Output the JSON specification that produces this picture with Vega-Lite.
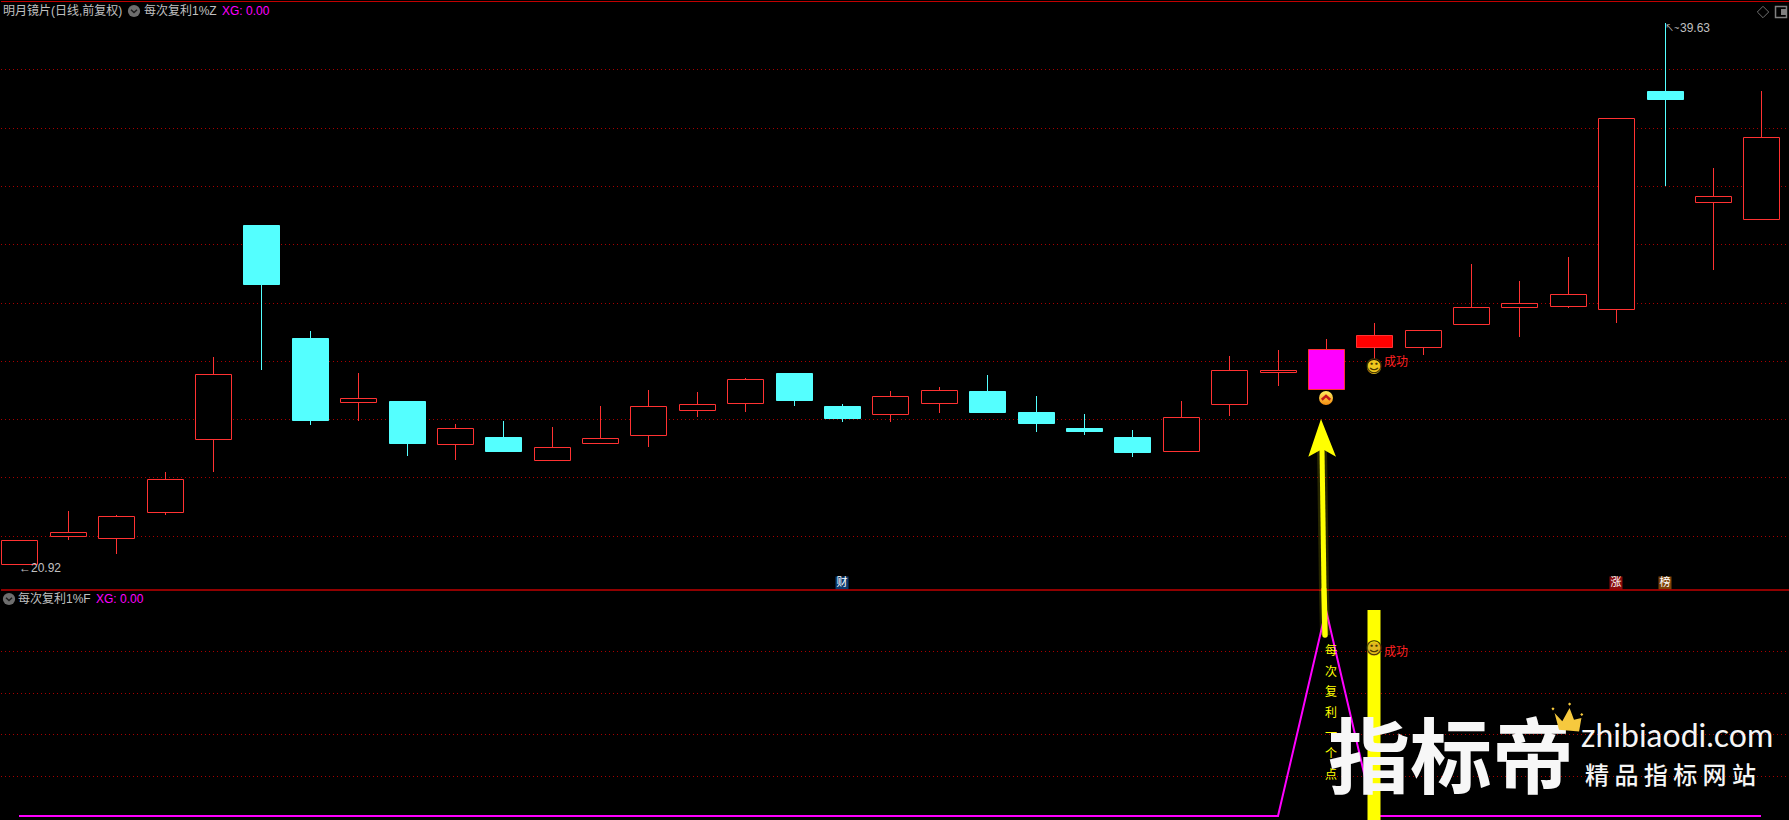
{
"$schema":"https://vega.github.io/schema/vega-lite/v6.json",
"background":"#000000","padding":0,"spacing":0,"bounds":"flush","autosize":{"type":"pad"},
"config":{"view":{"stroke":null},"text":{"font":"Liberation Sans, Noto Sans CJK SC","fontSize":12,"align":"left","baseline":"middle"}},
"datasets":{
"candles":[
{"i":0,"kind":"up","high":21.75,"low":20.92,"open":20.92,"close":21.75},
{"i":1,"kind":"up","high":22.76,"low":21.77,"open":21.89,"close":22.03},
{"i":2,"kind":"up","high":22.62,"low":21.29,"open":21.84,"close":22.58},
{"i":3,"kind":"up","high":24.11,"low":22.64,"open":22.74,"close":23.86},
{"i":4,"kind":"up","high":28.09,"low":24.12,"open":25.26,"close":27.49},
{"i":5,"kind":"down","high":32.65,"low":27.64,"open":32.65,"close":30.61},
{"i":6,"kind":"down","high":28.99,"low":25.74,"open":28.75,"close":25.91},
{"i":7,"kind":"up","high":27.54,"low":25.88,"open":26.54,"close":26.66},
{"i":8,"kind":"down","high":26.57,"low":24.67,"open":26.57,"close":25.11},
{"i":9,"kind":"up","high":25.77,"low":24.54,"open":25.09,"close":25.62},
{"i":10,"kind":"down","high":25.88,"low":24.8,"open":25.32,"close":24.84},
{"i":11,"kind":"up","high":25.67,"low":24.54,"open":24.54,"close":24.97},
{"i":12,"kind":"up","high":26.39,"low":25.13,"open":25.13,"close":25.28},
{"i":13,"kind":"up","high":26.95,"low":24.98,"open":25.4,"close":26.38},
{"i":14,"kind":"up","high":26.88,"low":26.01,"open":26.27,"close":26.45},
{"i":15,"kind":"up","high":27.36,"low":26.19,"open":26.51,"close":27.32},
{"i":16,"kind":"down","high":27.54,"low":26.39,"open":27.54,"close":26.6},
{"i":17,"kind":"down","high":26.46,"low":25.84,"open":26.39,"close":25.98},
{"i":18,"kind":"up","high":26.91,"low":25.84,"open":26.13,"close":26.73},
{"i":19,"kind":"up","high":27.05,"low":26.15,"open":26.51,"close":26.94},
{"i":20,"kind":"down","high":27.47,"low":26.19,"open":26.91,"close":26.19},
{"i":21,"kind":"down","high":26.74,"low":25.5,"open":26.19,"close":25.81},
{"i":22,"kind":"down","high":26.12,"low":25.39,"open":25.63,"close":25.53},
{"i":23,"kind":"down","high":25.56,"low":24.63,"open":25.32,"close":24.8},
{"i":24,"kind":"up","high":26.57,"low":24.8,"open":24.85,"close":26},
{"i":25,"kind":"up","high":28.12,"low":26.05,"open":26.47,"close":27.63},
{"i":26,"kind":"up","high":28.33,"low":27.09,"open":27.58,"close":27.63},
{"i":27,"kind":"signal","high":28.71,"low":26.95,"open":26.98,"close":28.37},
{"i":28,"kind":"success","high":29.26,"low":28.01,"open":28.43,"close":28.85},
{"i":29,"kind":"up","high":29.01,"low":28.16,"open":28.45,"close":29.01},
{"i":30,"kind":"up","high":31.3,"low":29.24,"open":29.24,"close":29.81},
{"i":31,"kind":"up","high":30.72,"low":28.78,"open":29.83,"close":29.95},
{"i":32,"kind":"up","high":31.55,"low":29.78,"open":29.86,"close":30.26},
{"i":33,"kind":"up","high":36.34,"low":29.26,"open":29.76,"close":36.34},
{"i":34,"kind":"down","high":39.63,"low":34,"open":37.29,"close":37.01},
{"i":35,"kind":"up","high":34.62,"low":31.1,"open":33.46,"close":33.65},
{"i":36,"kind":"up","high":37.29,"low":32.87,"open":32.87,"close":35.69}
],
"upperText":[
{"i":-0.329,"p":40.05,"label":"明月镜片(日线,前复权)","tone":"gray"},
{"i":2.585,"p":40.05,"label":"每次复利1%Z","tone":"gray"},
{"i":4.197,"p":40.05,"label":"XG: 0.00","tone":"magenta"},
{"i":0,"p":20.79,"label":"←20.92","tone":"gray"},
{"i":34.31,"p":39.47,"label":"39.63","tone":"gray"},
{"i":28.19,"p":27.93,"label":"成功","tone":"red"}
],
"lowerText":[
{"i":-0.019,"p":1.055,"label":"每次复利1%F","tone":"gray"},
{"i":1.593,"p":1.055,"label":"XG: 0.00","tone":"magenta"},
{"i":28.2,"p":0.798,"label":"成功","tone":"red"}
],
"badges":[
{"i":17,"p":20.29,"label":"财","kind":"finance"},
{"i":33,"p":20.29,"label":"涨","kind":"limit"},
{"i":34,"p":20.29,"label":"榜","kind":"rank"}
],
"osc":[{"i":0,"p":0},{"i":26,"p":0},{"i":27,"p":1},{"i":28,"p":0},{"i":36,"p":0}],
"vertical":[
{"i":27.1,"p":0.8,"label":"每"},{"i":27.1,"p":0.7,"label":"次"},{"i":27.1,"p":0.6,"label":"复"},
{"i":27.1,"p":0.5,"label":"利"},{"i":27.1,"p":0.4,"label":"一"},{"i":27.1,"p":0.3,"label":"个"},{"i":27.1,"p":0.2,"label":"点"}
]
},
"vconcat":[
{
"width":1789,"height":590,
"encoding":{
"x":{"field":"i","type":"quantitative","scale":{"domain":[-0.3802,36.59],"nice":false,"zero":false,"round":true,"padding":0},"axis":null},
"y":{"field":"p","type":"quantitative","scale":{"domain":[20.031,40.434],"nice":false,"zero":false,"round":true},"axis":null}
},
"layer":[
{"data":{"values":[{"p":38.0307},{"p":35.9906},{"p":33.9849},{"p":31.9793},{"p":29.939},{"p":27.9334},{"p":25.9278},{"p":23.9222},{"p":21.882}]},
"mark":{"type":"rule","stroke":"#A80000","strokeWidth":1,"strokeDash":[1,3],"yOffset":0.5},"encoding":{"x":{"value":0},"x2":{"value":1789}}},
{"data":{"name":"candles"},"mark":{"type":"rule","strokeWidth":1,"xOffset":0.5},
"encoding":{
"y":{"field":"low","type":"quantitative","scale":{"domain":[20.031,40.434],"nice":false,"zero":false,"round":true},"axis":null},
"y2":{"field":"high"},
"stroke":{"field":"kind","type":"nominal","scale":{"domain":["up","down","signal","success"],"range":["#FF3232","#54FFFF","#FF3232","#FF3232"]},"legend":null}}},
{"data":{"name":"candles"},"mark":{"type":"bar","size":36,"strokeWidth":1,"orient":"vertical","xOffset":0.5,"yOffset":0.5,"y2Offset":0.5},
"encoding":{
"y":{"field":"open","type":"quantitative","scale":{"domain":[20.031,40.434],"nice":false,"zero":false,"round":true},"axis":null},
"y2":{"field":"close"},
"fill":{"field":"kind","type":"nominal","scale":{"domain":["up","down","signal","success","finance","limit","rank"],"range":["#000000","#54FFFF","#FF00FF","#FF0000","#0B3A6E","#8A0A0A","#7C4208"]},"legend":null},
"stroke":{"field":"kind","type":"nominal","scale":{"domain":["up","down","signal","success"],"range":["#FF3232","#54FFFF","#FF00FF","#FF0000"]},"legend":null}}},
{"data":{"values":[{"p":40.405}]},"mark":{"type":"rule","stroke":"#C00000","strokeWidth":1,"yOffset":0.5},"encoding":{"x":{"value":0},"x2":{"value":1789}}},
{"data":{"values":[{"i":32.56},{"i":33.28},{"i":34},{"i":34.73},{"i":35.45},{"i":36.17}]},"mark":{"type":"rule","stroke":"#C00000","strokeWidth":1,"xOffset":0.5},
"encoding":{"y":{"datum":40.434,"scale":{"domain":[20.031,40.434],"nice":false,"zero":false,"round":true},"axis":null},"y2":{"datum":40.37}}},
{"data":{"values":[{"i":2.366,"p":40.05}]},"mark":{"type":"point","shape":"circle","size":150,"filled":true,"color":"#6E6E6E","opacity":1}},
{"data":{"values":[{"i":2.366,"p":40.05}]},"mark":{"type":"point","shape":"M-0.5,-0.2 L0,0.25 L0.5,-0.2","size":144,"filled":false,"stroke":"#1c1c1c","strokeWidth":1.5,"opacity":1}},
{"data":{"name":"upperText"},"mark":{"type":"text"},"encoding":{"text":{"field":"label"},
"color":{"field":"tone","type":"nominal","scale":{"domain":["gray","magenta","red"],"range":["#C0C0C0","#FF00FF","#FF2020"]},"legend":null}}},
{"data":{"values":[{"i":34,"p":39.47,"label":"↖~"}]},"mark":{"type":"text","fontSize":9,"color":"#C0C0C0"},"encoding":{"text":{"field":"label"}}},
{"data":{"name":"badges"},"mark":{"type":"point","shape":"square","size":169,"filled":true,"opacity":1},"encoding":{
"fill":{"field":"kind","type":"nominal","scale":{"domain":["up","down","signal","success","finance","limit","rank"],"range":["#000000","#54FFFF","#FF00FF","#FF0000","#0B3A6E","#8A0A0A","#7C4208"]},"legend":null}}},
{"data":{"name":"badges"},"mark":{"type":"text","align":"center","fontSize":11,"color":"#FFFFFF","font":"Noto Sans CJK SC"},"encoding":{"text":{"field":"label"}}},
{"data":{"values":[{"i":28,"p":27.74}]},"mark":{"type":"point","shape":"circle","size":196,"filled":true,"color":"#F0C81E","opacity":1}},
{"data":{"values":[{"i":28,"p":27.74,"face":"☺"}]},"mark":{"type":"text","align":"center","fontSize":17,"font":"DejaVu Sans","color":"#4A3600"},"encoding":{"text":{"field":"face"}}},
{"data":{"values":[{"i":27,"p":26.67}]},"mark":{"type":"point","shape":"circle","size":196,"filled":true,"opacity":1,"strokeWidth":0,"fill":{"gradient":"linear","x1":0,"y1":0,"x2":0,"y2":1,"stops":[{"offset":0,"color":"#FFF060"},{"offset":1,"color":"#F58A10"}]}}},
{"data":{"values":[{"i":27,"p":26.67}]},"mark":{"type":"point","shape":"M-0.6,0.25 L0,-0.3 L0.6,0.25","size":196,"filled":false,"stroke":"#C01818","strokeWidth":2.5,"opacity":1}},
{"data":{"values":[{"i":26.91,"p":24.91},{"i":26.96,"p":20.03}]},"mark":{"type":"line","stroke":"#FFFF00","strokeWidth":10,"opacity":0.15}},
{"data":{"values":[{"i":26.91,"p":24.91},{"i":26.96,"p":20.03}]},"mark":{"type":"line","stroke":"#FFFF00","strokeWidth":5}},
{"data":{"values":[{"i":26.91,"p":25.29}]},"mark":{"type":"point","shape":"M-0.05,-0.95 L0.7,0.935 L0.02,0.55 L-0.685,0.935 Z","size":1600,"filled":true,"color":"#FFFF00","opacity":1}},
{"data":{"values":[{"i":36.03,"p":40.02}]},"mark":{"type":"point","shape":"diamond","size":130,"filled":false,"stroke":"#707070","strokeWidth":1,"opacity":1}},
{"data":{"values":[{"i":36.41,"p":40.02}]},"mark":{"type":"point","shape":"square","size":120,"filled":false,"stroke":"#808080","strokeWidth":1.5,"opacity":1}},
{"data":{"values":[{"i":36.46,"p":40.02}]},"mark":{"type":"point","shape":"square","size":36,"filled":true,"color":"#808080","opacity":1}}
]
},
{
"width":1789,"height":230,
"encoding":{
"x":{"field":"i","type":"quantitative","scale":{"domain":[-0.3802,36.59],"nice":false,"zero":false,"round":true,"padding":0},"axis":null},
"y":{"field":"p","type":"quantitative","scale":{"domain":[-0.0194,1.0971],"nice":false,"zero":false,"round":true},"axis":null}
},
"layer":[
{"data":{"values":[{"p":0.7986},{"p":0.5995},{"p":0.3986},{"p":0.1966}]},
"mark":{"type":"rule","stroke":"#A80000","strokeWidth":1,"strokeDash":[1,3],"yOffset":0.5},"encoding":{"x":{"value":0},"x2":{"value":1789}}},
{"data":{"name":"osc"},"mark":{"type":"line","stroke":"#FF00FF","strokeWidth":2}},
{"data":{"values":[{"p":1.095}]},"mark":{"type":"rule","stroke":"#C00000","strokeWidth":1.5},"encoding":{"x":{"value":0},"x2":{"value":1789}}},
{"data":{"values":[{"i":28,"p":-0.0194,"top":1}]},"mark":{"type":"bar","size":13,"fill":"#FFFF00","orient":"vertical"},"encoding":{"y2":{"field":"top"}}},
{"data":{"values":[{"i":26.96,"p":1.097},{"i":26.977,"p":0.879}]},"mark":{"type":"line","stroke":"#FFFF00","strokeWidth":10,"opacity":0.15}},
{"data":{"values":[{"i":26.96,"p":1.097},{"i":26.977,"p":0.879}]},"mark":{"type":"line","stroke":"#FFFF00","strokeWidth":5.5,"strokeCap":"round"}},
{"data":{"name":"lowerText"},"mark":{"type":"text"},"encoding":{"text":{"field":"label"},
"color":{"field":"tone","type":"nominal","scale":{"domain":["gray","magenta","red"],"range":["#C0C0C0","#FF00FF","#FF2020"]},"legend":null}}},
{"data":{"name":"vertical"},"mark":{"type":"text","align":"center","color":"#FFFF00","font":"Noto Sans CJK SC"},"encoding":{"text":{"field":"label"}}},
{"data":{"values":[{"i":-0.224,"p":1.055}]},"mark":{"type":"point","shape":"circle","size":150,"filled":true,"color":"#6E6E6E","opacity":1}},
{"data":{"values":[{"i":-0.224,"p":1.055}]},"mark":{"type":"point","shape":"M-0.5,-0.2 L0,0.25 L0.5,-0.2","size":144,"filled":false,"stroke":"#1c1c1c","strokeWidth":1.5,"opacity":1}},
{"data":{"values":[{"i":28,"p":0.811}]},"mark":{"type":"point","shape":"circle","size":196,"filled":true,"color":"#E0B81E","opacity":1}},
{"data":{"values":[{"i":28,"p":0.811,"face":"☺"}]},"mark":{"type":"text","align":"center","fontSize":17,"font":"DejaVu Sans","color":"#4A3600"},"encoding":{"text":{"field":"face"}}},
{"data":{"values":[{"i":27.05,"p":0.26,"label":"指标帝"}]},"mark":{"type":"text","fontSize":82,"fontWeight":"bold","color":"#F7F7F7","font":"Noto Sans CJK SC"},"encoding":{"text":{"field":"label"}}},
{"data":{"values":[{"i":32.27,"p":0.382,"label":"zhibiaodi.com"}]},"mark":{"type":"text","fontSize":32,"color":"#F5F5F5","font":"Lato"},"encoding":{"text":{"field":"label"}}},
{"data":{"values":[{"i":32.35,"p":0.188,"label":"精 品 指 标 网 站"}]},"mark":{"type":"text","fontSize":24,"fontWeight":500,"color":"#F5F5F5","font":"Noto Sans CJK SC"},"encoding":{"text":{"field":"label"}}},
{"data":{"values":[{"i":32,"p":0.476}]},"mark":{"type":"point","size":1000,"filled":true,"color":"#F6C93E","opacity":1,"shape":"M-0.85,-0.32 L-0.36,0.21 L0.1,-0.64 L0.38,0.11 L0.85,0 L0.7,0.85 L-0.57,0.74 Z M-0.95,-0.68 L-0.85,-0.58 L-0.95,-0.48 L-1.05,-0.58 Z M0.1,-0.98 L0.2,-0.88 L0.1,-0.78 L0,-0.88 Z M0.87,-0.32 L0.97,-0.22 L0.87,-0.12 L0.77,-0.22 Z"}}
]
}
]
}
